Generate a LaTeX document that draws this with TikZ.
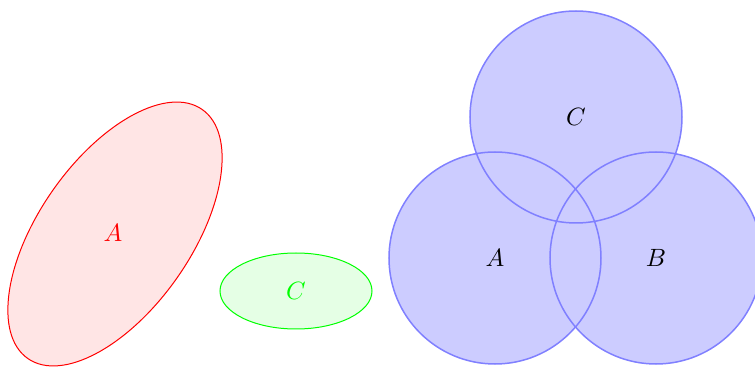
\documentclass[tikz,border=0pt]{standalone}
\usetikzlibrary{shapes.geometric}
\begin{document}
\begin{tikzpicture}[x=0.4pt,y=0.4pt,
  setlabel/.style={inner sep=0pt},
  venn/.style={circle, draw=blue!50, semithick, minimum size=84.8pt, inner sep=0pt}]
\useasboundingbox (0,0) rectangle (755,367);
% red rotated ellipse
\draw[red, fill=red!10, rotate around={55:(115,133)}] (115,133) ellipse [x radius=60.8pt, y radius=30.4pt];
\node[setlabel, text=red] (la) at (113,134) {$A$};
% green ellipse
\draw[green, fill=green!10] (296,76) ellipse [x radius=30.4pt, y radius=15.2pt];
\node[setlabel, text=green] (lc) at (296,76) {$C$};
% blue circles: fills first, then outlines
\fill[blue!20] (495,109) circle [radius=42.4pt];
\fill[blue!20] (656,109) circle [radius=42.4pt];
\fill[blue!20] (576,250) circle [radius=42.4pt];
\node[venn] (A) at (495,109) {$A$};
\node[venn] (B) at (656,109) {$B$};
\node[venn] (C) at (576,250) {$C$};
\end{tikzpicture}
\end{document}
